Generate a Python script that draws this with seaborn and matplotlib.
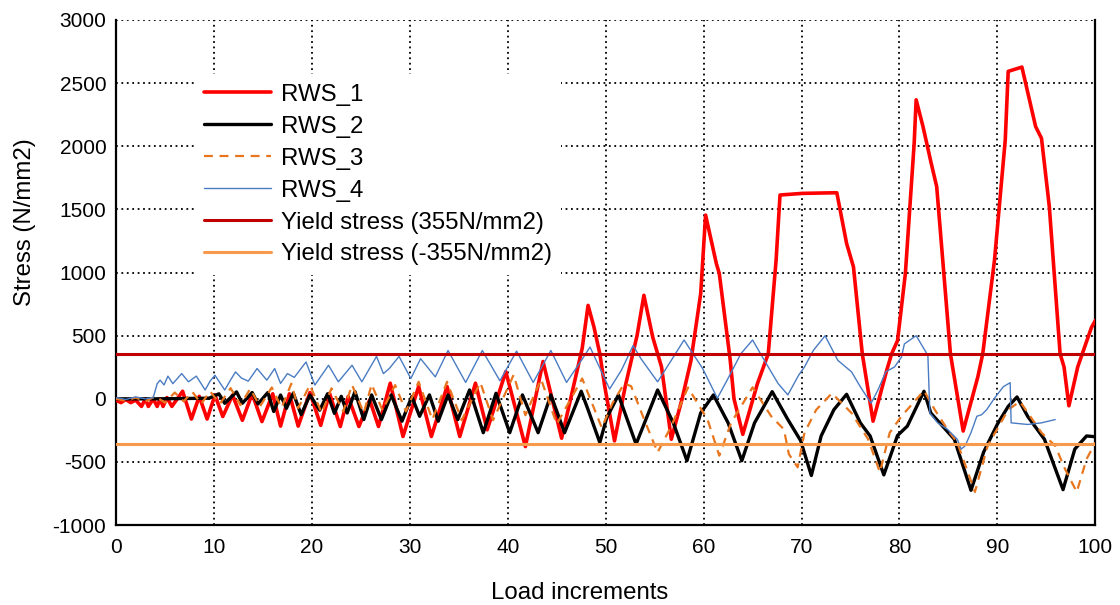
import numpy as np
import pandas as pd
import matplotlib
matplotlib.use("Agg")
import matplotlib.pyplot as plt
import seaborn as sns

# values (load increment, stress N/mm2)
rws1_x = [0, 0.5, 1, 1.5, 2, 2.6, 3.0, 3.3, 3.8, 4.2, 4.5, 4.8, 5.2, 5.7, 6.8, 7.7, 8.5, 9.3,
          10.1, 10.9, 11.9, 12.9, 13.9, 14.9, 16.0, 16.8, 17.7, 18.6, 19.8, 20.9, 21.8, 22.9,
          23.7, 24.8, 25.9, 26.8, 28.0, 29.3, 30.9, 32.2, 33.8, 35.1, 36.7, 37.9, 39.8, 41.8,
          43.6, 45.5, 47.6, 48.2, 48.8, 49.4, 49.9, 50.9, 52.0, 53.2, 53.9, 54.8, 55.7, 56.7,
          57.8, 58.7, 59.7, 60.2, 61.3, 61.6, 62.7, 63.1, 64.0, 65.5, 66.6, 67.4, 67.8, 70.1,
          73.6, 74.6, 75.3, 76.2, 77.3, 78.7, 79.2, 79.8, 80.6, 81.5, 81.7, 82.4, 83.2, 83.8,
          85.2, 86.5, 88.0, 88.5, 89.7, 90.8, 91.1, 92.5, 93.9, 94.5, 95.3, 96.4, 96.8, 97.3,
          98.2, 98.9, 99.6, 100]
rws1_y = [-10, -30, -5, -30, -10, -60, 0, -60, 0, -60, 0, -60, 10, -60, 60, -160, 20, -160,
          30, -140, 30, -170, 40, -180, 40, -216, 40, -216, 50, -210, 44, -219,
          18, -219, -8, -219, 124, -298, 98, -298, 98, -298, 124, -245, 216, -378,
          296, -312, 400, 740, 569, 357, 100, -333, 100, 500, 820, 489, 253, -320,
          0, 300, 833, 1455, 1071, 992, 317, 0, -281, 122, 357, 1098, 1614, 1627,
          1632, 1230, 1045, 357, -177, 227, 357, 461, 992, 2024, 2368, 2156, 1878, 1680,
          357, -255, 174, 357, 1098, 2050, 2593, 2627, 2156, 2063, 1521, 357, 253, -55,
          253, 409, 565, 621]

rws2_x = [0, 4, 9.5, 10.5, 11.1, 12.3, 12.9, 13.9, 14.5, 15.5, 16.1, 16.8, 17.4, 18.1, 18.9,
          19.8, 20.8, 21.6, 22.3, 23.0, 23.6, 24.4, 25.3, 26.1, 27.1, 28.1, 29.2, 30.2, 31.0,
          32.0, 32.9, 33.9, 34.9, 36.1, 37.5, 38.8, 40.2, 41.5, 43.1, 44.4, 45.8, 47.5, 48.2,
          49.4, 50.1, 51.3, 53.1, 55.3, 56.9, 58.3, 59.7, 61.0, 62.5, 63.9, 65.2, 67.0, 68.6,
          69.9, 71.0, 72.0, 73.3, 74.6, 76.0, 77.0, 78.4, 79.8, 80.8, 82.5, 83.2, 85.6, 87.3,
          88.6, 90.0, 91.1, 92.0, 93.1, 94.8, 96.7, 97.9, 99.1, 100]
rws2_y = [0, 0, 5, 40, -35, 55, -35, 50, -40, 50, -100, 30, -75, 45, -125,
          30, -90, 40, -115, 20, -112, 57, -164, 31, -164, 31, -177, 18, -138,
          31, -177, 31, -164, 70, -268, 44, -268, 31, -268, 31, -268, 60, -86,
          -346, -151, 31, -359, 70, -190, -490, -112, 31, -190, -490, -190, 57, -164,
          -330, -607, -294, -86, 36, -190, -294, -602, -290, -216, 60, -112, -320, -724,
          -420, -200, -60, 15, -140, -320, -719, -398, -294, -300]

rws3_x = [0, 1, 2, 3, 4, 5, 6, 6.9, 7.8, 8.7, 9.6, 10.6, 11.7, 12.7, 13.7, 14.7, 15.9, 16.9,
          17.9, 18.6, 19.8, 21.0, 22.0, 23.2, 24.1, 25.3, 26.1, 27.2, 28.5, 29.6, 30.9, 32.3,
          33.8, 35.3, 37.2, 38.5, 40.6, 41.8, 43.4, 45.0, 47.6, 49.6, 50.7, 51.9, 52.6, 53.8,
          55.3, 56.7, 58.4, 60.4, 61.6, 62.8, 65.0, 66.9, 68.2, 68.7, 69.6, 70.3, 71.5, 73.1,
          75.1, 76.8, 78.0, 79.0, 80.2, 82.5, 83.6, 84.9, 85.9, 87.7, 89.0, 91.1, 92.3, 94.5,
          95.9, 96.9, 98.1, 99.1, 100]
rws3_y = [0, -15, 10, -20, 20, -30, 50, -20, 55, -40, 60, -40, 85, -50, 80, -60, 90, -70,
          120, -73, 109, -112, 83, -100, 110, -112, 115, -90, 109, -99, 135, -164,
          135, -169, 130, -169, 190, -130, 156, -200, 161, -229, -34, 122, 100, -138,
          -424, -216, 90, -164, -450, -190, 91, -138, -242, -437, -542, -268, -86, 44,
          -112, -320, -581, -268, -138, 65, -86, -242, -346, -737, -372, -86, -21, -268,
          -372, -555, -737, -477, -346]

rws4_x = [0, 1, 2, 3, 3.8, 4.2, 4.5, 4.9, 5.3, 5.8, 6.7, 7.4, 8.2, 9.1, 9.6, 10.1, 11.1, 11.7,
          12.2, 12.8, 13.5, 14.4, 15.4, 16.2, 16.8, 17.5, 18.2, 19.4, 20.3, 21.7, 22.7, 24.1,
          25.1, 26.6, 27.3, 27.9, 28.9, 30.1, 31.1, 32.6, 33.9, 35.7, 37.4, 39.2, 40.9, 42.6,
          44.4, 46.0, 47.7, 48.4, 50.4, 51.6, 52.8, 53.6, 55.3, 56.7, 58.0, 59.9, 61.4, 62.4,
          63.8, 65.0, 66.2, 67.6, 68.6, 69.7, 70.3, 71.2, 72.4, 73.7, 75.1, 76.1, 77.1, 77.8,
          78.6, 79.5, 80.2, 80.5, 81.7, 82.7, 82.9, 83.1, 83.9, 84.9, 85.9, 86.3, 86.7, 87.3,
          87.9, 88.4, 88.9, 89.7, 90.6, 91.3, 91.4, 93.1, 94.5, 95.9]
rws4_y = [10, -5, 15, 0, 10, 120, 148, 110, 180, 120, 200, 135, 180, 70, 140, 187, 70, 150,
          213, 165, 140, 240, 148, 240, 122, 200, 170, 292, 109, 266, 135, 266,
          135, 336, 200, 240, 336, 161, 318, 174, 383, 130, 383, 143, 378, 130,
          383, 130, 326, 410, 78, 226, 422, 318, 135, 305, 466, 240, 5, 148,
          357, 466, 305, 122, 31, 187, 253, 383, 500, 305, 214, 83, -34, 70,
          214, 253, 331, 435, 500, 370, 340, -112, -190, -242, -320, -398, -372, -268,
          -138, -125, -86, 5, 96, 128, -190, -203, -190, -164]

yield_pos = 355
yield_neg = -355

x_ticks = list(range(0, 101, 10))
y_ticks = list(range(-1000, 3001, 500))

sns.set_style("white")
plt.rcParams['font.family'] = ['Liberation Sans', 'DejaVu Sans']
plt.rcParams['axes.unicode_minus'] = False
plt.rcParams['text.color'] = 'black'
plt.rcParams['axes.labelcolor'] = 'black'

fig = plt.figure(figsize=(11.2, 6.05), dpi=100)
ax = fig.add_axes([0.1036, 0.132, 0.8744, 0.835])

series = [
    ("RWS_1", rws1_x, rws1_y, dict(color="#FF0000", linewidth=2.6)),
    ("RWS_2", rws2_x, rws2_y, dict(color="black", linewidth=2.4)),
    ("RWS_3", rws3_x, rws3_y, dict(color="#E8761E", linewidth=1.6, linestyle=(0, (4, 3)))),
    ("RWS_4", rws4_x, rws4_y, dict(color="#4A7CC3", linewidth=1.0)),
]
for i, (name, xs, ys, style) in enumerate(series):
    df = pd.DataFrame({"x": xs, "y": ys})
    sns.lineplot(data=df, x="x", y="y", ax=ax, label=name, sort=False,
                 estimator=None, zorder=3 + i, **style)

ax.axhline(yield_pos, color="#C00000", linewidth=2.2, label="Yield stress (355N/mm2)", zorder=8)
ax.axhline(yield_neg, color="#F79A4C", linewidth=2.2, label="Yield stress (-355N/mm2)", zorder=8)

ax.set_xlim(0, 100)
ax.set_ylim(-1000, 3000)
ax.set_xticks(x_ticks)
ax.set_yticks(y_ticks)
ax.tick_params(axis="both", length=0, labelsize=15, colors="black")
ax.tick_params(axis="x", pad=9)
ax.tick_params(axis="y", pad=7)
ax.grid(True, color="black", linestyle=(0, (1, 2)), linewidth=1.3)
ax.set_axisbelow(True)

for side in ["left", "bottom", "right"]:
    ax.spines[side].set_color("black")
    ax.spines[side].set_linewidth(1.6)
ax.spines["top"].set_visible(False)

ax.set_xlabel("Load increments", fontsize=17.3, color="black")
ax.set_ylabel("Stress (N/mm2)", fontsize=17.3, color="black")
ax.xaxis.set_label_coords(0.473, -0.112)
ax.yaxis.set_label_coords(-0.082, 0.6)

leg = ax.legend(loc="upper left", bbox_to_anchor=(0.08, 0.893), frameon=True, fontsize=17.3,
                handlelength=2.8, handletextpad=0.4, labelspacing=0.415, borderaxespad=0,
                fancybox=False, framealpha=1, facecolor="white", edgecolor="none")
leg.set_zorder(10)
for t in leg.get_texts():
    t.set_color("black")

fig.savefig("out.png", dpi=100)
